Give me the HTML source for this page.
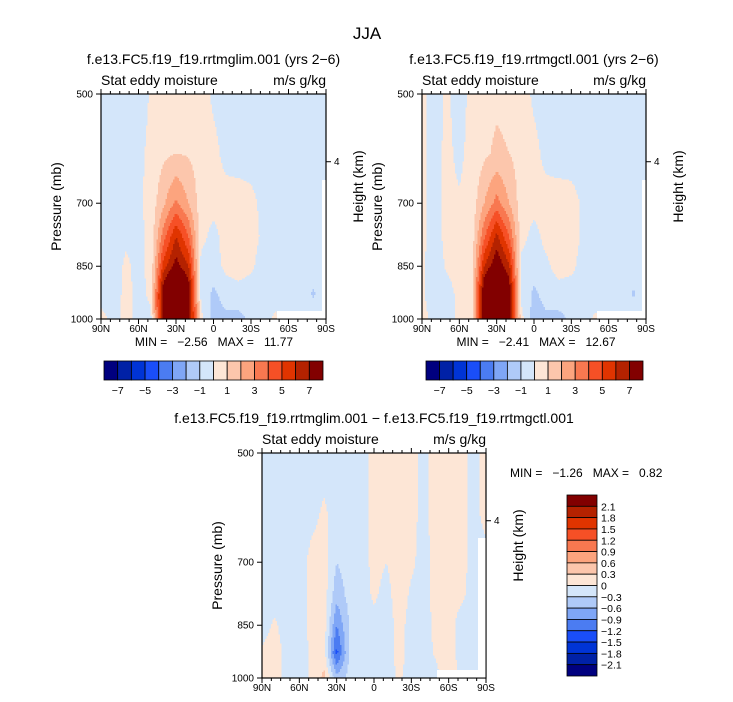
<!DOCTYPE html>
<html><head><meta charset="utf-8"><style>
html,body{margin:0;padding:0;background:#fff;}
svg{display:block;font-family:"Liberation Sans",sans-serif;}
.pre{white-space:pre;}
</style></head><body>
<svg id="svg" width="733" height="702" xmlns="http://www.w3.org/2000/svg">
<text x="367" y="39" font-size="17" text-anchor="middle">JJA</text>
<g id="root"></g>
</svg>
<script>
const lats = [90,80,70,60,50,40,30,20,10,0,-10,-20,-30,-40,-50,-60,-70,-80,-90];
const levels = [500,600,700,775,850,925,1000];
const fieldA = [
[-.5,-.5,-.5,-.5,0.1,0.6,0.8,0.7,0.5,-0.2,-.5,-.5,-.5,-.5,-.5,-.5,-.5,-.5,-.5],
[-.5,-.5,-.5,-.3,0.3,0.8,1.0,0.9,0.6,0.3,-0.3,-.5,-.5,-.5,-.5,-.5,-.5,-.5,-.5],
[-.5,-.5,-.5,-.2,0.4,1.8,3.2,2.0,0.5,0.3,0.4,0.5,0.3,-0.3,-.5,-.5,-.5,-.5,-.5],
[-.5,-.5,-.2,-.3,0.3,3.5,6,4,0.3,-0.3,0.4,0.6,0.4,-0.2,-.5,-.5,-.5,-.5,-.5],
[-.5,-.5,0.2,-.3,0.3,5.5,7.5,6,-0.3,-0.5,0.3,0.5,0.2,-0.5,-.5,-.5,-.5,-.5,-.5],
[-.4,-.5,0.3,-.3,0.2,8,11,8,-0.3,-1.2,-0.6,-0.4,-0.6,-0.4,-0.5,-0.5,-0.6,-1.1,-0.5],
[0.3,-.3,0.3,-.3,-0.2,8,11,8,0.3,-1.5,-1.2,-1.3,-0.8,-0.3,0.2,-0.5,-0.5,-0.5,-0.5]];
const fieldB = [
[0.2,-.3,0.1,-.3,0.2,0.6,0.8,0.7,0.5,-0.2,-.5,-.5,-.5,-.5,-.5,-.5,-.5,-.5,-.5],
[0.2,-.3,0.2,-.2,0.3,0.8,1.2,1.0,0.6,0.3,-0.3,-.5,-.5,-.5,-.5,-.5,-.5,-.5,-.5],
[0.2,-.3,0.2,0.1,0.4,2.0,3.4,2.0,0.5,0.3,0.4,0.5,0.4,-0.2,-.5,-.5,-.5,-.5,-.5],
[0.2,-.3,0.2,0.2,0.4,3.8,6.3,4,0.3,-0.3,0.3,0.6,0.5,-0.2,-.5,-.5,-.5,-.5,-.5],
[0.1,-.4,0.1,0.3,0.4,6,8,6.2,-0.3,-0.5,-0.2,0.4,0.3,-0.5,-.5,-.5,-.5,-.5,-.5],
[0.1,-.4,-.3,0.2,0.3,8.5,12,8,-0.3,-1.2,-0.6,-0.4,-0.6,-0.4,-0.5,-0.5,-0.6,-1.1,-0.5],
[0.3,-.3,-.3,0.2,0.2,8.5,12,8,0.3,-1.5,-1.2,-1.3,-0.8,-0.3,0.2,-0.5,-0.5,-0.5,-0.5]];
const fieldC = [
[-.15,-.15,-.15,-.15,-.15,-.15,-.15,-.15,-.15,0.1,0.1,0.15,0.1,-0.1,0.15,0.15,0.1,-0.1,0.1],
[-.15,-.15,-.15,-.15,-.1,0.05,-.15,-.15,-.15,0.1,0.05,0.15,0.1,-0.1,0.15,0.15,0.1,-0.1,0.1],
[-.15,-.15,-.15,-.15,0.1,0.15,-.3,-.15,-.15,0.1,0.0,0.15,0.05,-0.1,0.1,0.15,0.1,-0.1,-0.1],
[-.15,-.15,-.15,-.15,0.1,0.15,-.5,-.2,-.15,0.05,-0.1,0.15,-0.05,-0.1,0.1,0.1,0.05,-0.1,-0.1],
[-.15,0.05,-.15,-.15,0.1,0.15,-.9,-.3,-.15,-0.1,-0.15,0.1,-0.1,-0.15,0.1,0.1,-0.1,-0.1,-0.1],
[0.05,0.15,-.1,-.15,0.05,0.1,-1.3,-.3,-.15,-0.15,-0.15,0.1,-0.1,-0.15,0.05,0.1,-0.1,-0.1,-0.1],
[0.1,0.15,-.1,-.15,0.05,0.4,-0.5,-.2,-.15,-0.15,-0.15,0.05,-0.15,-0.15,-0.1,0.3,-0.1,-0.1,-0.1]];
const boundsAB = [-7,-6,-5,-4,-3,-2,-1,0,1,2,3,4,5,6,7];
const boundsC = [-2.1,-1.8,-1.5,-1.2,-0.9,-0.6,-0.3,0,0.3,0.6,0.9,1.2,1.5,1.8,2.1];
const labelsAB = ['−7','','−5','','−3','','−1','','1','','3','','5','','7'];
const labelsC = ['−2.1','−1.8','−1.5','−1.2','−0.9','−0.6','−0.3','0','0.3','0.6','0.9','1.2','1.5','1.8','2.1'];
const xTicks = [90,60,30,0,-30,-60,-90];
const xTickLabels = ['90N','60N','30N','0','30S','60S','90S'];
const yTicks = [500,700,850,1000];
const statsA = ['−2.56','11.77'], statsB = ['−2.41','12.67'], statsC = ['−1.26','0.82'];
const colors = ['#00007f','#0021a6','#0034d6','#1a4ef8','#4b7cf2','#7fa6f6','#afcaf8','#d4e6fa','#fde6d6','#fcc6ac','#fca47e','#f87850','#f65026','#e03400','#b42200','#820000'];

const NS='http://www.w3.org/2000/svg';
const root=document.getElementById('root');
function el(tag,attrs,parent,txt){const e=document.createElementNS(NS,tag);for(const k in attrs)e.setAttribute(k,attrs[k]);if(txt!==undefined)e.textContent=txt;(parent||root).appendChild(e);return e;}

function sample(field,lat,p){
  let i=0;while(i<lats.length-2&&lat<lats[i+1])i++;
  const fx=(lats[i]-lat)/(lats[i]-lats[i+1]);
  let j=0;while(j<levels.length-2&&p>levels[j+1])j++;
  const fy=(Math.log(p)-Math.log(levels[j]))/(Math.log(levels[j+1])-Math.log(levels[j]));
  const a=field[j][i]*(1-fx)+field[j][i+1]*fx;
  const b=field[j+1][i]*(1-fx)+field[j+1][i+1]*fx;
  return a*(1-fy)+b*fy;
}
function colorIdx(v,bounds){let k=0;while(k<bounds.length&&v>=bounds[k])k++;return k;}

function panel(name,field,bounds,x0,y0,w,h,title){
  const g=el('g',{});
  
  
  const xS=lat=>x0+(90-lat)/180*w;
  const yS=p=>y0+Math.log(p/500)/Math.log(2)*h;
  const cells=el('g',{'shape-rendering':'crispEdges'},g);
  
  
  const sx=1.5, sy=1.5;
  const flush=(ys,xa,xb,c)=>{const r=el('rect',{x:x0+xa,y:y0+ys,width:Math.min(xb,w)-xa+0.5,height:sy+0.5,fill:colors[c]},cells);
    
    };
  for(let y=0;y<h;y+=sy){
    const p=500*Math.pow(2,Math.min(1,(y+sy/2)/h));
    let runStart=0,runC=-1;
    for(let x=0;x<w;x+=sx){
      const lat=90-Math.min(w,x+sx/2)/w*180;
      const c=colorIdx(sample(field,lat,p),bounds);
      if(c!==runC){
        if(runC>=0)flush(y,runStart,x,runC);
        runStart=x;runC=c;
      }
    }
    if(runC>=0)flush(y,runStart,w,runC);
  }
  const fr=el('rect',{x:x0,y:y0,width:w,height:h,fill:'none',stroke:'#000','stroke-width':1.2},g);
  
  
  for(let lat=90;lat>=-90;lat-=7.5){
    const major=(lat%30===0);const x=xS(lat);const L=major?5:3;
    el('line',{x1:x,x2:x,y1:y0,y2:y0-L,stroke:'#000'},g);
    el('line',{x1:x,x2:x,y1:y0+h,y2:y0+h+L,stroke:'#000'},g);
  }
  xTicks.forEach((lat,k)=>{const t=el('text',{x:xS(lat),y:y0+h+13,'font-size':10,'text-anchor':'middle'},g,xTickLabels[k]);
    
    });
  yTicks.forEach(p=>{const y=yS(p);el('line',{x1:x0,x2:x0-5,y1:y,y2:y,stroke:'#000'},g);
    const t=el('text',{x:x0-8,y:y+3.5,'font-size':10,'text-anchor':'end'},g,String(p));
    
    });
  const y4=yS(616);
  el('line',{x1:x0+w,x2:x0+w+5,y1:y4,y2:y4,stroke:'#000'},g);
  el('text',{x:x0+w+8,y:y4+3.5,'font-size':10},g,'4');
  const yt=el('text',{transform:`translate(${x0-40},${y0+h/2}) rotate(-90)`,'font-size':14,'text-anchor':'middle'},g,'Pressure (mb)');
  
  
  const ht=el('text',{transform:`translate(${x0+w+37},${y0+h/2-20}) rotate(-90)`,'font-size':14,'text-anchor':'middle'},g,'Height (km)');
  
  
  const st=el('text',{x:x0,y:y0-9,'font-size':14},g,'Stat eddy moisture');
  
  
  const un=el('text',{x:x0+w,y:y0-9,'font-size':14,'text-anchor':'end'},g,'m/s g/kg');
  
  
  const tt=el('text',{x:x0+w/2,y:y0-30,'font-size':14,'text-anchor':'middle'},g,title);
  
  
}
function hbar(x0,y0,w,h,labels){
  const g=el('g',{});
  
  
  const bw=w/16;
  colors.forEach((c,k)=>{const r=el('rect',{x:x0+k*bw,y:y0,width:bw,height:h,fill:c,stroke:'#000','stroke-width':0.8},g);
    
    });
  labels.forEach((l,k)=>{if(l)el('text',{x:x0+(k+1)*bw,y:y0+h+14,'font-size':10.5,'text-anchor':'middle'},g,l);});
}
function vbar(x0,y0,w,h,labels){
  const g=el('g',{});
  
  
  const bh=h/16;
  colors.slice().reverse().forEach((c,k)=>{const r=el('rect',{x:x0,y:y0+k*bh,width:w,height:bh,fill:c,stroke:'#000','stroke-width':0.8},g);
    
    });
  labels.slice().reverse().forEach((l,k)=>{el('text',{x:x0+w+4,y:y0+(k+1)*bh+4,'font-size':10.5},g,l);});
}
function mask(x,y,w,h){const r=el('rect',{x,y,width:w,height:h,fill:'#fff'});
  
  }
function stat(x,y,s,anchor){const t=el('text',{x,y,'font-size':12,'text-anchor':anchor,'class':'pre'},root,'MIN =   '+s[0]+'   MAX =   '+s[1]);
  
  }

panel('panel-glim',fieldA,boundsAB,101,94,225,225,'f.e13.FC5.f19_f19.rrtmglim.001 (yrs 2−6)');
mask(277,311,45,7.5);mask(322,180,3.5,138.5);
stat(214,346,statsA,'middle');
hbar(104,361,219,19,labelsAB);

panel('panel-ctl',fieldB,boundsAB,422,94,224,225,'f.e13.FC5.f19_f19.rrtmgctl.001 (yrs 2−6)');
mask(597,311,45,7.5);mask(642,180,3.5,138.5);
stat(536,346,statsB,'middle');
hbar(426,361,217,19,labelsAB);

panel('panel-diff',fieldC,boundsC,262,453,224,225,'f.e13.FC5.f19_f19.rrtmglim.001 − f.e13.FC5.f19_f19.rrtmgctl.001');
mask(437,670,41,7.5);mask(478,538,7.5,139.5);
stat(510,477,statsC,'start');
vbar(567,495,30,181,labelsC);
</script>
</body></html>
